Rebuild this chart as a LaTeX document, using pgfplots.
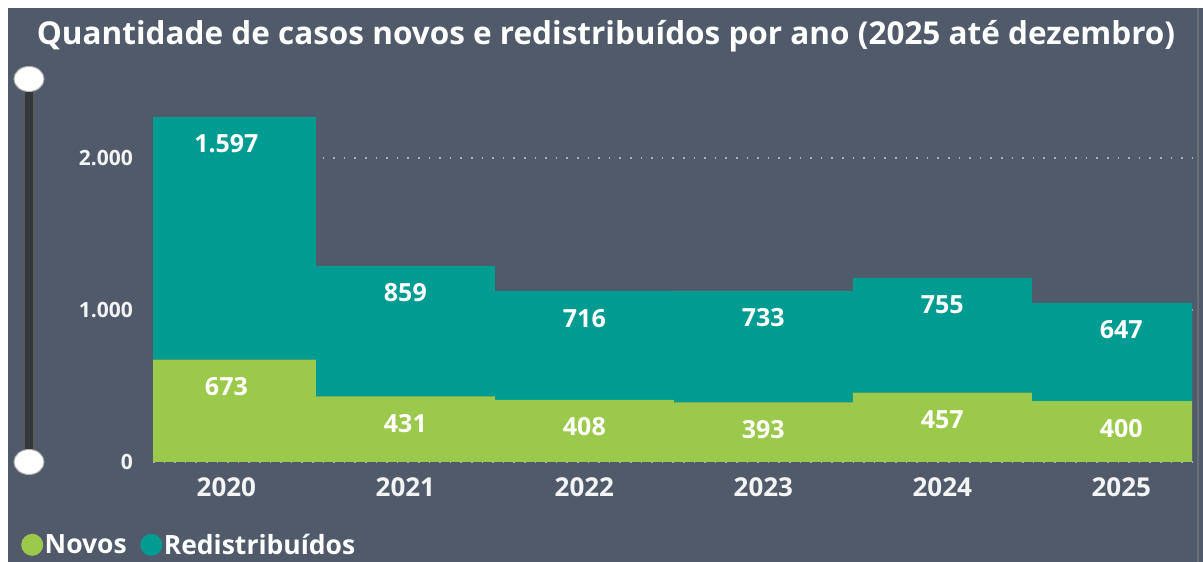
\documentclass[border=0pt]{standalone}
\usepackage{fontspec}
\setmainfont{Open Sans}
\usepackage{pgfplots}
\usepackage{pgfplotstable}
\pgfplotsset{compat=1.18}
\definecolor{bg}{HTML}{505A6B}
\definecolor{novos}{HTML}{9BC94B}
\definecolor{redis}{HTML}{009B91}
\definecolor{gridc}{HTML}{A9B0BB}
\definecolor{slider}{HTML}{34373B}
\definecolor{lbl}{HTML}{F4F4F4}

\pgfplotstableread{
x y lab
0 673 673
1 431 431
2 408 408
3 393 393
4 457 457
5 400 400
}\novos
\pgfplotstableread{
x y lab
0 1597 1.597
1 859 859
2 716 716
3 733 733
4 755 755
5 647 647
}\redis

\begin{document}
\begin{tikzpicture}
\fill[white] (0pt,0pt) rectangle (1203pt,562pt);
\fill[bg] (8pt,0pt) rectangle (1203pt,554pt);
\fill[gray!55!bg] (1197pt,0pt) rectangle (1199pt,554pt);
\useasboundingbox (0pt,0pt) rectangle (1203pt,562pt);
% slider
\fill[slider, draw=gray!70!black, line width=1.5pt] (24pt,100pt) rectangle (34pt,482pt);
\fill[white, draw=gray!60, line width=1pt] (29pt,483pt) ellipse (15pt and 12.5pt);
\fill[white, draw=gray!60, line width=1pt] (29pt,100pt) ellipse (15pt and 12.5pt);
% title
\node[font=\bfseries\fontsize{31.5}{36}\selectfont, text=white, anchor=base, inner sep=0pt] at (606pt,517pt)
  {Quantidade de casos novos e redistribuídos por ano (2025 até dezembro)};
\begin{axis}[
  at={(153pt,100pt)}, anchor=south west,
  scale only axis, width=1039pt, height=380pt,
  ybar stacked, bar width=1,
  xmin=-0.41, xmax=5.395, ymin=0, ymax=2500,
  enlargelimits=false,
  axis line style={draw=none},
  tick style={draw=none},
  xtick={0,1,2,3,4,5},
  xticklabels={2020,2021,2022,2023,2024,2025},
  ytick={0,1000,2000},
  yticklabels={0,1.000,2.000},
  /pgf/number format/assume math mode=true,
  xticklabel style={font=\bfseries\fontsize{26}{30}\selectfont, text=lbl, anchor=north, inner sep=0pt, yshift=-15pt},
  yticklabel style={font=\bfseries\fontsize{21}{24}\selectfont, text=lbl, anchor=east, inner sep=0pt, xshift=-20pt},
  ymajorgrids,
  grid style={gridc, line width=1.6pt, dash pattern=on 1.6pt off 9pt},
  nodes near coords,
  point meta=explicit symbolic,
  visualization depends on={rawy \as \rawy},
  nodes near coords style={font=\bfseries\fontsize{25}{28}\selectfont, text=white, anchor=center, yshift={0.076pt*\rawy-27pt}},
  legend columns=2,
  legend style={at={(-0.127,-0.218)}, anchor=west, draw=none, fill=none,
    inner sep=0pt, text=white, font=\bfseries\fontsize{26.5}{30}\selectfont,
    nodes={inner sep=1.5pt, anchor=west},
    /tikz/column 2/.style={column sep=12pt}},
  legend image code/.code={\fill[#1] (11pt,0pt) circle (11pt);},
]
\addplot[fill=novos, draw=none] table[x=x, y=y, meta=lab] {\novos};
\addplot[fill=redis, draw=none] table[x=x, y=y, meta=lab] {\redis};
\legend{Novos, Redistribuídos}
\end{axis}
\end{tikzpicture}
\end{document}
